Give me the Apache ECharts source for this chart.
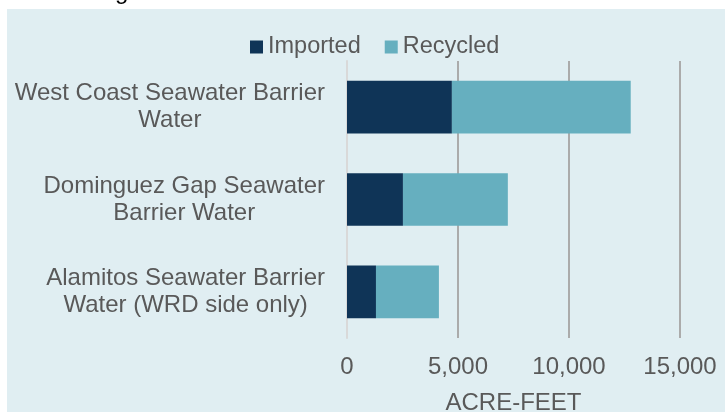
<!DOCTYPE html>
<html>
<head>
<meta charset="utf-8">
<script src="https://cdn.jsdelivr.net/npm/echarts@6/dist/echarts.min.js"></script>
<style>
html,body{margin:0;padding:0;background:#fff;}
#main{width:725px;height:412px;}
</style>
</head>
<body>
<div id="main"></div>
<script>
var categories = ['West Coast Seawater Barrier\nWater', 'Dominguez Gap Seawater\nBarrier Water', 'Alamitos Seawater Barrier\nWater (WRD side only)'];
var imported = [4725, 2520, 1305];
var recycled = [8055, 4725, 2835];
var xTicks = [0, 5000, 10000, 15000];

var myChart = echarts.init(document.getElementById('main'));

var option = {
    backgroundColor: '#fff',
    textStyle: { fontFamily: 'Liberation Sans, Arial, sans-serif' },
    graphic: [
        { type: 'rect', left: 7, top: 9, shape: { width: 718, height: 403 }, style: { fill: '#e0eef2' }, z: -10 },
        // tail of the cut-off title above the chart
        { type: 'text', z: -5, style: { x: 115, y: 4, text: 'g', verticalAlign: 'bottom', fill: '#000', font: '24px Liberation Sans' } }
    ],
    legend: {
        top: 30,
        left: 245,
        itemWidth: 13,
        itemHeight: 13,
        itemGap: 24,
        icon: 'rect',
        textStyle: { color: '#595959', fontSize: 23.5 },
        data: ['Imported', 'Recycled']
    },
    grid: { left: 347, right: 45, top: 61, bottom: 74, outerBoundsMode: 'none' },
    xAxis: {
        type: 'value',
        min: 0,
        max: 15000,
        interval: 5000,
        name: 'ACRE-FEET',
        nameLocation: 'middle',
        nameGap: 53,
        nameTextStyle: { color: '#595959', fontSize: 24 },
        axisLine: { show: false },
        axisTick: { show: false },
        axisLabel: {
            color: '#595959',
            fontSize: 24,
            margin: 17,
            formatter: function (v) { return xTicks.indexOf(v) >= 0 ? v.toLocaleString('en-US') : ''; }
        },
        splitLine: { show: true, showMinLine: false, lineStyle: { color: '#ababab', width: 2 } }
    },
    yAxis: {
        type: 'category',
        inverse: true,
        data: categories,
        axisLine: { show: true, lineStyle: { color: '#d9d9d9', width: 2 } },
        axisTick: { show: false },
        axisLabel: {
            margin: 22,
            formatter: function (v) { return v.split('\n').map(function (s) { return '{c|' + s + '}'; }).join('\n'); },
            rich: { c: { color: '#595959', fontSize: 24, lineHeight: 27, align: 'center' } }
        }
    },
    series: [
        {
            name: 'Imported',
            type: 'bar',
            stack: 'total',
            barCategoryGap: '43%',
            itemStyle: { color: '#0f3457' },
            data: imported
        },
        {
            name: 'Recycled',
            type: 'bar',
            stack: 'total',
            barCategoryGap: '43%',
            itemStyle: { color: '#66afbf' },
            data: recycled
        }
    ]
};

myChart.setOption(option);
</script>
</body>
</html>
